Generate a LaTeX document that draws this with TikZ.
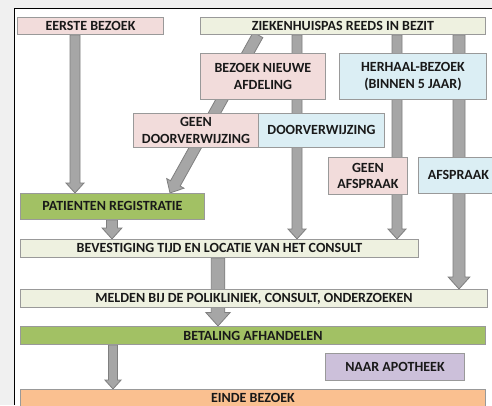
\documentclass[tikz,border=0pt]{standalone}
\usepackage{fontspec}
\setmainfont{Carlito}
\usetikzlibrary{calc}
\usetikzlibrary{backgrounds}
\definecolor{roze}{HTML}{F2DCDB}
\definecolor{lichtblauw}{HTML}{DBEEF4}
\definecolor{creme}{HTML}{EEF1E0}
\definecolor{groen}{HTML}{A2C164}
\definecolor{paars}{HTML}{CCC0DA}
\definecolor{oranje}{HTML}{FAC090}
\definecolor{pijlgrijs}{HTML}{A6A6A6}
\definecolor{randgrijs}{HTML}{7F7F7F}

% blokpijl van #2 naar #3, #1 = schaal
\newcommand{\bigarrow}[3][1]{%
    \coordinate (ba) at (#2);
    \coordinate (bb) at (#3);
    \coordinate (bh) at ($(bb)!#1*10pt!(ba)$);
    \filldraw[pijl] ($(ba)!#1*5pt!90:(bb)$) -- ($(bh)!#1*5pt!90:(bb)$)
        -- ($(bh)!#1*9pt!90:(bb)$) -- (bb) -- ($(bh)!#1*9pt!-90:(bb)$)
        -- ($(bh)!#1*5pt!-90:(bb)$) -- ($(ba)!#1*5pt!-90:(bb)$) -- cycle;
}

\begin{document}
\begin{tikzpicture}[x=1pt,y=-1pt,
    box/.style={draw=black!40,line width=.9pt,anchor=north west,inner sep=0pt,
        align=center,text=black!90,font=\fontsize{14}{16.5}\selectfont\bfseries},
    pijl/.style={fill=pijlgrijs,draw=randgrijs,line width=.8pt,line join=miter}]
    \useasboundingbox (0,0) rectangle (492,405);

    % bovenste rij
    \node[box,fill=roze,minimum width=146,minimum height=17] (eerste) at (17,17) {EERSTE BEZOEK};
    \node[box,fill=creme,minimum width=285,minimum height=17] (pas) at (200,17) {ZIEKENHUISPAS REEDS IN BEZIT};
    \node[box,fill=roze,minimum width=125,minimum height=46] (nieuw) at (200,53) {BEZOEK NIEUWE\\AFDELING};
    \node[box,fill=lichtblauw,minimum width=147,minimum height=46] (herhaal) at (339,53) {HERHAAL-BEZOEK\\(BINNEN 5 JAAR)};
    \node[box,fill=roze,minimum width=125,minimum height=34] (geendoor) at (133,113) {GEEN\\DOORVERWIJZING};
    \node[box,fill=lichtblauw,minimum width=126,minimum height=34] (door) at (258,113) {DOORVERWIJZING};
    \node[box,fill=roze,minimum width=79,minimum height=37] (geenafspr) at (328,157) {GEEN\\AFSPRAAK};
    \node[box,fill=lichtblauw,minimum width=80,minimum height=36] (afspr) at (418,157) {AFSPRAAK};

    % balken
    \node[box,fill=groen,minimum width=184,minimum height=26] (registratie) at (20,193) {PATIENTEN REGISTRATIE};
    \node[box,fill=creme,minimum width=398,minimum height=18] (bevestiging) at (20,239) {BEVESTIGING TIJD EN LOCATIE VAN HET CONSULT};
    \node[box,fill=creme,minimum width=467,minimum height=18] (melden) at (20,289) {MELDEN BIJ DE POLIKLINIEK, CONSULT, ONDERZOEKEN};
    \node[box,fill=groen,minimum width=465,minimum height=18] (betaling) at (20,326) {BETALING AFHANDELEN};
    \node[box,fill=paars,minimum width=139,minimum height=27] (apotheek) at (325,353) {NAAR APOTHEEK};
    \node[box,fill=oranje,minimum width=465,minimum height=17] (einde) at (20,389) {EINDE BEZOEK};

    \begin{scope}[on background layer]
        \fill[black!6] (0,0) rectangle (492,405);
        \fill[white] (14,8) rectangle (492,405);
        \draw[line width=1pt] (14,405) -- (14,8) -- (492,8);
        % pijlen achter de vakken
        \bigarrow{eerste.south -| 75,0}{registratie.north -| 75,0}
        \bigarrow[1.1]{pas.south -| 258,0}{registratie.north -| 170,0}
        \bigarrow{pas.south -| 297,0}{bevestiging.north -| 297,0}
        \bigarrow{pas.south -| 397,0}{bevestiging.north -| 397,0}
        \bigarrow[1.2]{pas.south -| 459,0}{melden.north -| 459,0}
        \bigarrow[1.1]{registratie.south -| 112,0}{bevestiging.north -| 112,0}
        \bigarrow[1.35]{bevestiging.south -| 218,0}{betaling.north -| 218,0}
        \bigarrow[.9]{betaling.south -| 113,0}{einde.north -| 113,0}
    \end{scope}
\end{tikzpicture}
\end{document}
